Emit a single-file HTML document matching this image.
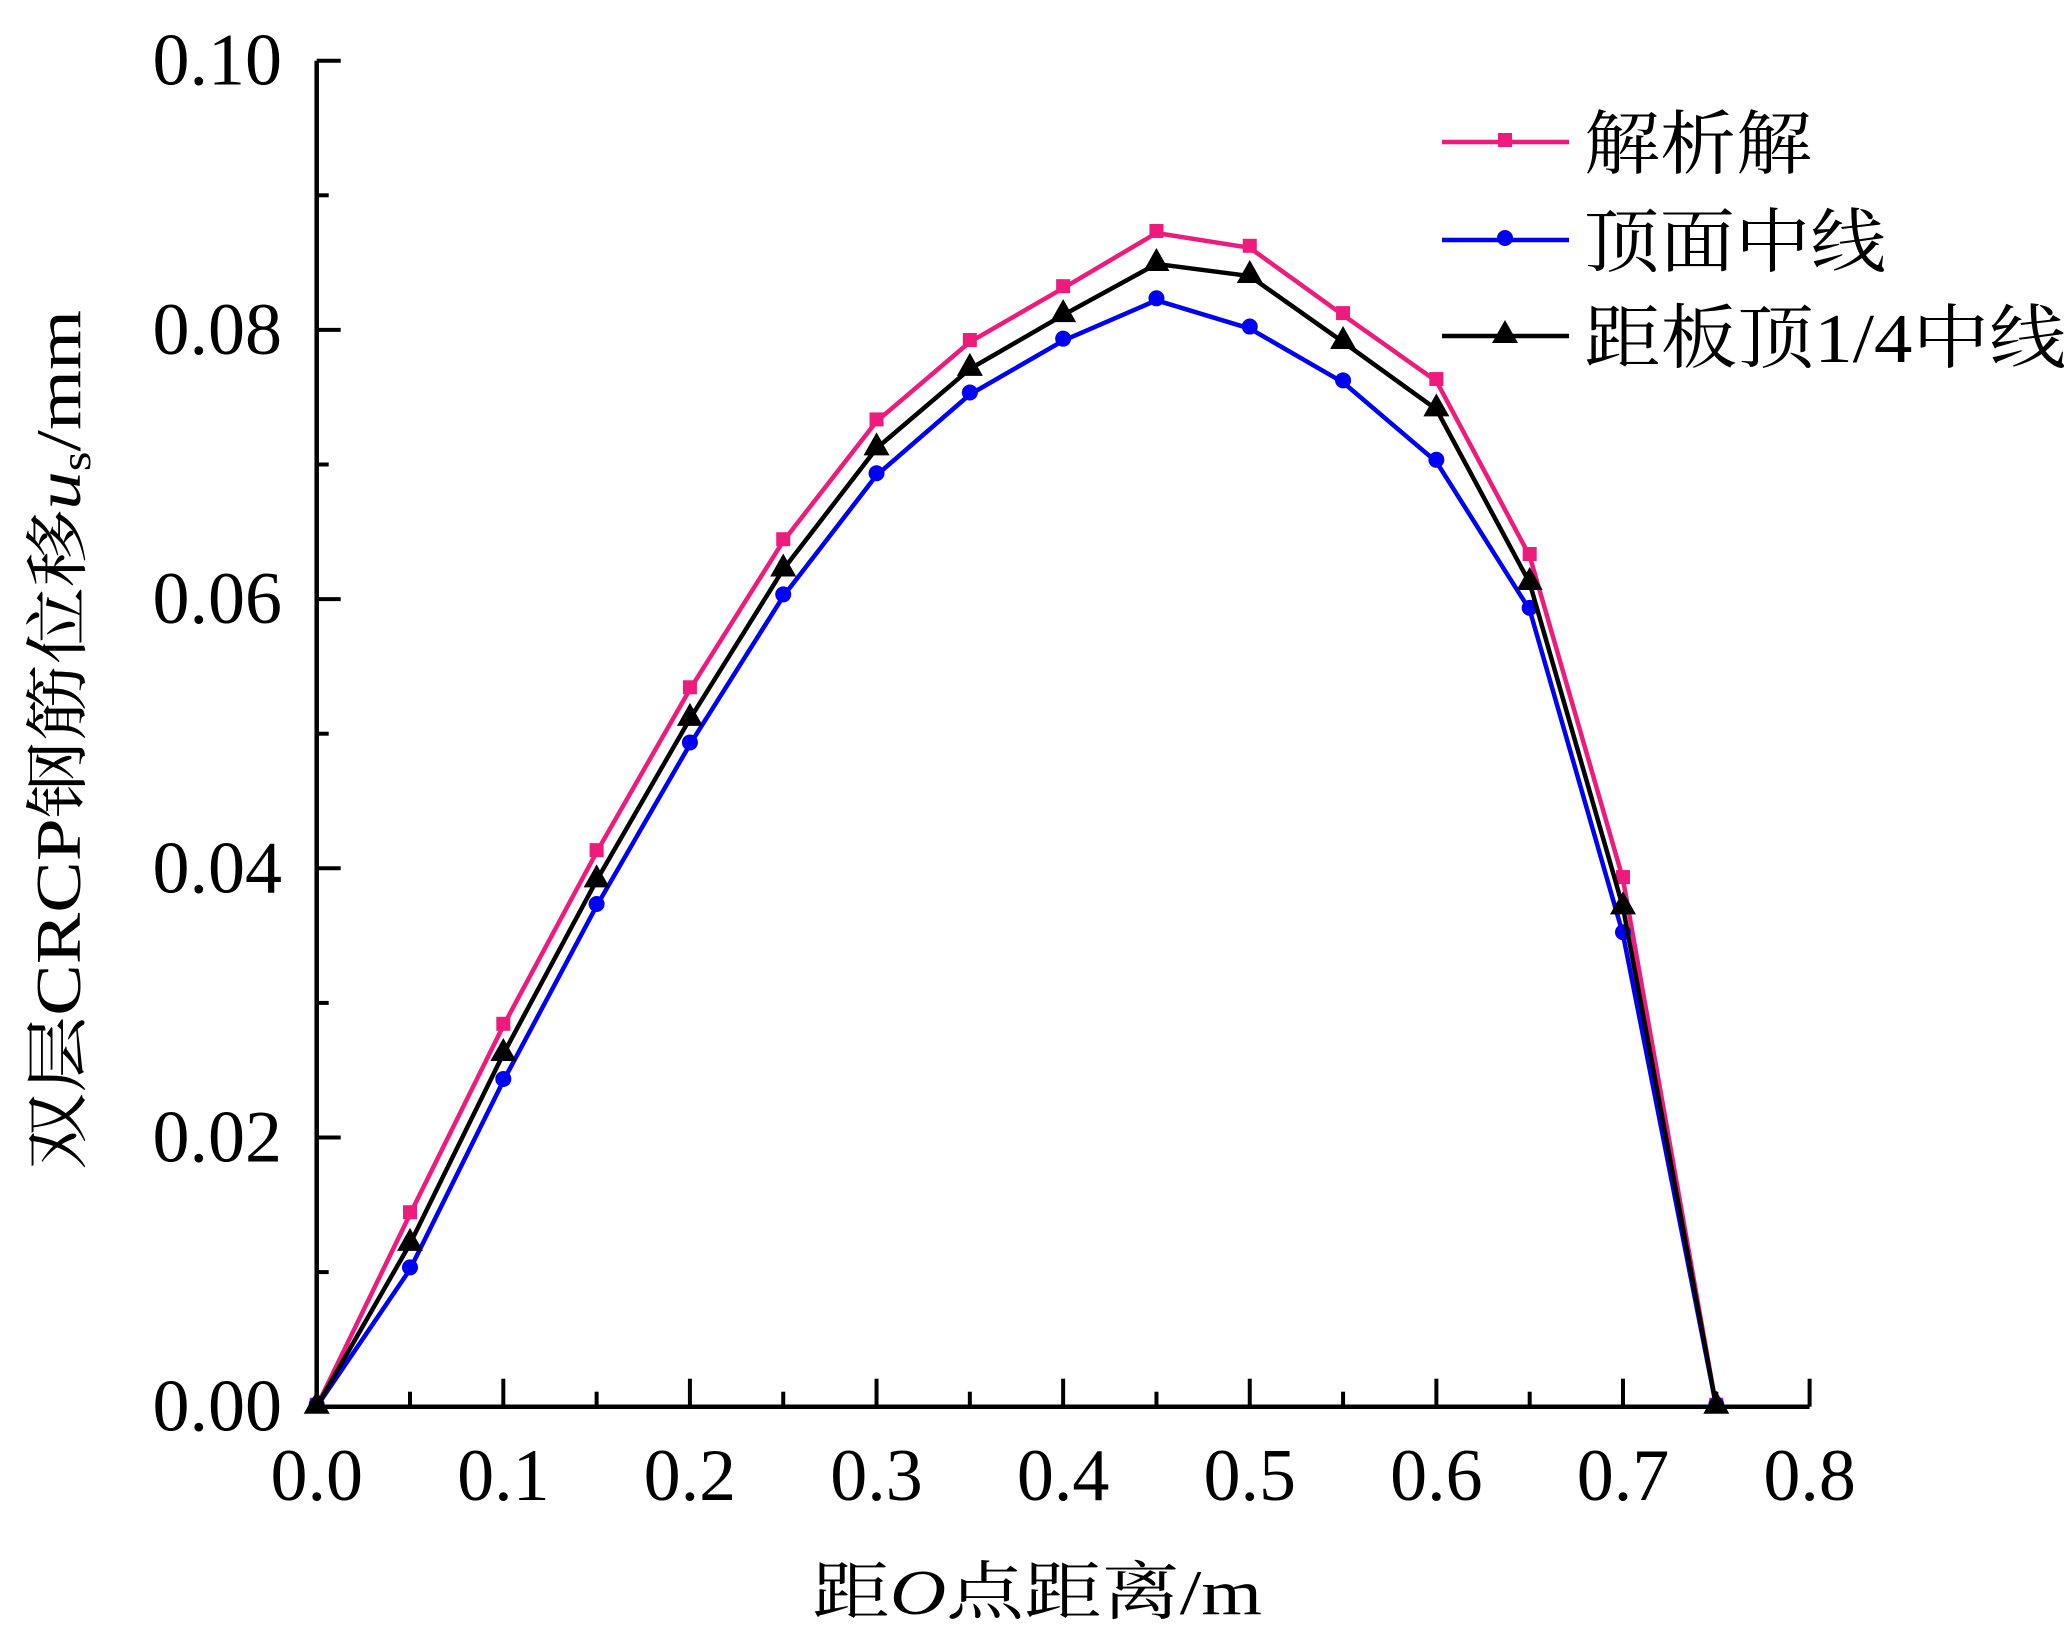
<!DOCTYPE html>
<html><head><meta charset="utf-8"><style>
html,body{margin:0;padding:0;background:#fff;}
svg{display:block;}
</style></head><body>
<svg id="chart" width="2071" height="1639" viewBox="0 0 2071 1639" xmlns="http://www.w3.org/2000/svg">
<g id="axes"></g>
<g id="series"></g>
<g id="legend"></g>
<text transform="translate(80,740) rotate(-90)" text-anchor="middle" font-family="Liberation Serif, Noto Serif CJK SC, serif" font-size="64" textLength="860" lengthAdjust="spacingAndGlyphs">双层CRCP钢筋位移<tspan font-style="italic">u</tspan><tspan font-size="42" dy="10">s</tspan><tspan dy="-10">/mm</tspan></text>
<text x="1037" y="1614" text-anchor="middle" font-family="Liberation Serif, Noto Serif CJK SC, serif" font-size="64" textLength="450" lengthAdjust="spacingAndGlyphs">距<tspan font-style="italic">O</tspan>点距离/m</text>
</svg>
<script>
const xCategories = [0,0.05,0.1,0.15,0.2,0.25,0.3,0.35,0.4,0.45,0.5,0.55,0.6,0.65,0.7,0.75];
const analytic = [0,0.0143,0.0283,0.0412,0.0533,0.0643,0.0732,0.0791,0.0831,0.0872,0.0861,0.0811,0.0762,0.0632,0.0392,0];
const topMid = [0,0.0102,0.0242,0.0372,0.0492,0.0602,0.0692,0.0752,0.0792,0.0822,0.0801,0.0761,0.0702,0.0592,0.0351,0];
const quarterMid = [0,0.0121,0.0262,0.0391,0.0511,0.0622,0.0712,0.0771,0.0811,0.0849,0.0840,0.0791,0.0741,0.0612,0.0371,0];
const xTickLabels = ["0.0","0.1","0.2","0.3","0.4","0.5","0.6","0.7","0.8"];
const yTickLabels = ["0.00","0.02","0.04","0.06","0.08","0.10"];
const legendLabels = ["解析解","顶面中线","距板顶1/4中线"];

const NS="http://www.w3.org/2000/svg";
const X0=316.7, X1=1809.6, Y0=1406.7, Y1=60.7;
const xs=v=>X0+(v/0.8)*(X1-X0);
const ys=v=>Y0-(v/0.1)*(Y0-Y1);
function mk(tag,attrs,parent){const e=document.createElementNS(NS,tag);for(const k in attrs)e.setAttribute(k,attrs[k]);parent.appendChild(e);return e;}
const axes=document.getElementById('axes');
const FONT="Liberation Serif, serif";
let e;
e=mk('line',{x1:X0,y1:Y0,x2:X1,y2:Y0,stroke:'#000','stroke-width':4.5},axes);


e=mk('line',{x1:X0,y1:Y0+2,x2:X0,y2:Y1,stroke:'#000','stroke-width':4.5},axes);


for(let i=0;i<=16;i++){
  const v=i*0.05, major=i%2===0;
  e=mk('line',{x1:xs(v),y1:Y0,x2:xs(v),y2:Y0-(major?28:15),stroke:'#000','stroke-width':4},axes);
  
  
}
xTickLabels.forEach((t,i)=>{
  e=mk('text',{x:xs(i*0.1),y:1500,'text-anchor':'middle','font-family':FONT,'font-size':74},axes);
  e.textContent=t;
  
  
});
for(let i=0;i<=10;i++){
  const v=i*0.01, major=i%2===0;
  e=mk('line',{x1:X0,y1:ys(v),x2:X0+(major?24:12),y2:ys(v),stroke:'#000','stroke-width':4},axes);
  
  
}
yTickLabels.forEach((t,i)=>{
  e=mk('text',{x:282,y:ys(i*0.02)+24,'text-anchor':'end','font-family':FONT,'font-size':74},axes);
  e.textContent=t;
  
  
});
const ser=document.getElementById('series');
function marker(type,cx,cy,color,g){
  let m;
  if(type==='square') m=mk('rect',{x:cx-7,y:cy-9,width:14,height:14,fill:color},g);
  else if(type==='circle') m=mk('circle',{cx:cx,cy:cy-2,r:8,fill:color},g);
  else m=mk('polygon',{points:`${cx},${cy-16} ${cx-13},${cy+7} ${cx+13},${cy+7}`,fill:color},g);
  return m;
}
const seriesDefs=[
  {data:analytic,color:'#ee1a7c',m:'square',name:'analytic'},
  {data:topMid,color:'#0000f5',m:'circle',name:'top-midline'},
  {data:quarterMid,color:'#000',m:'triangle',name:'quarter-midline'}
];
seriesDefs.forEach(s=>{
  const g=mk('g',{},ser);
  
  
  const pts=s.data.map((v,i)=>xs(xCategories[i])+','+ys(v)).join(' ');
  const l=mk('polyline',{points:pts,fill:'none',stroke:s.color,'stroke-width':4.5,'stroke-linejoin':'round'},g);
  
  
  s.data.forEach((v,i)=>{
    const m=marker(s.m,xs(xCategories[i]),ys(v),s.color,g);
    
    
  });
});
const leg=document.getElementById('legend');
const legY=[142,240,336];
const legLen=[228,302,482];
seriesDefs.forEach((s,i)=>{
  const g=mk('g',{},leg);
  
  
  mk('line',{x1:1442,y1:legY[i],x2:1569,y2:legY[i],stroke:s.color,'stroke-width':4.5},g);
  marker(s.m,1505,legY[i],s.color,g);
  const t=mk('text',{x:1584,y:legY[i]+26,'font-family':'Liberation Serif, Noto Serif CJK SC, serif','font-size':70,textLength:legLen[i],lengthAdjust:'spacingAndGlyphs'},g);
  t.textContent=legendLabels[i];
  
  
});
</script>
</body></html>
